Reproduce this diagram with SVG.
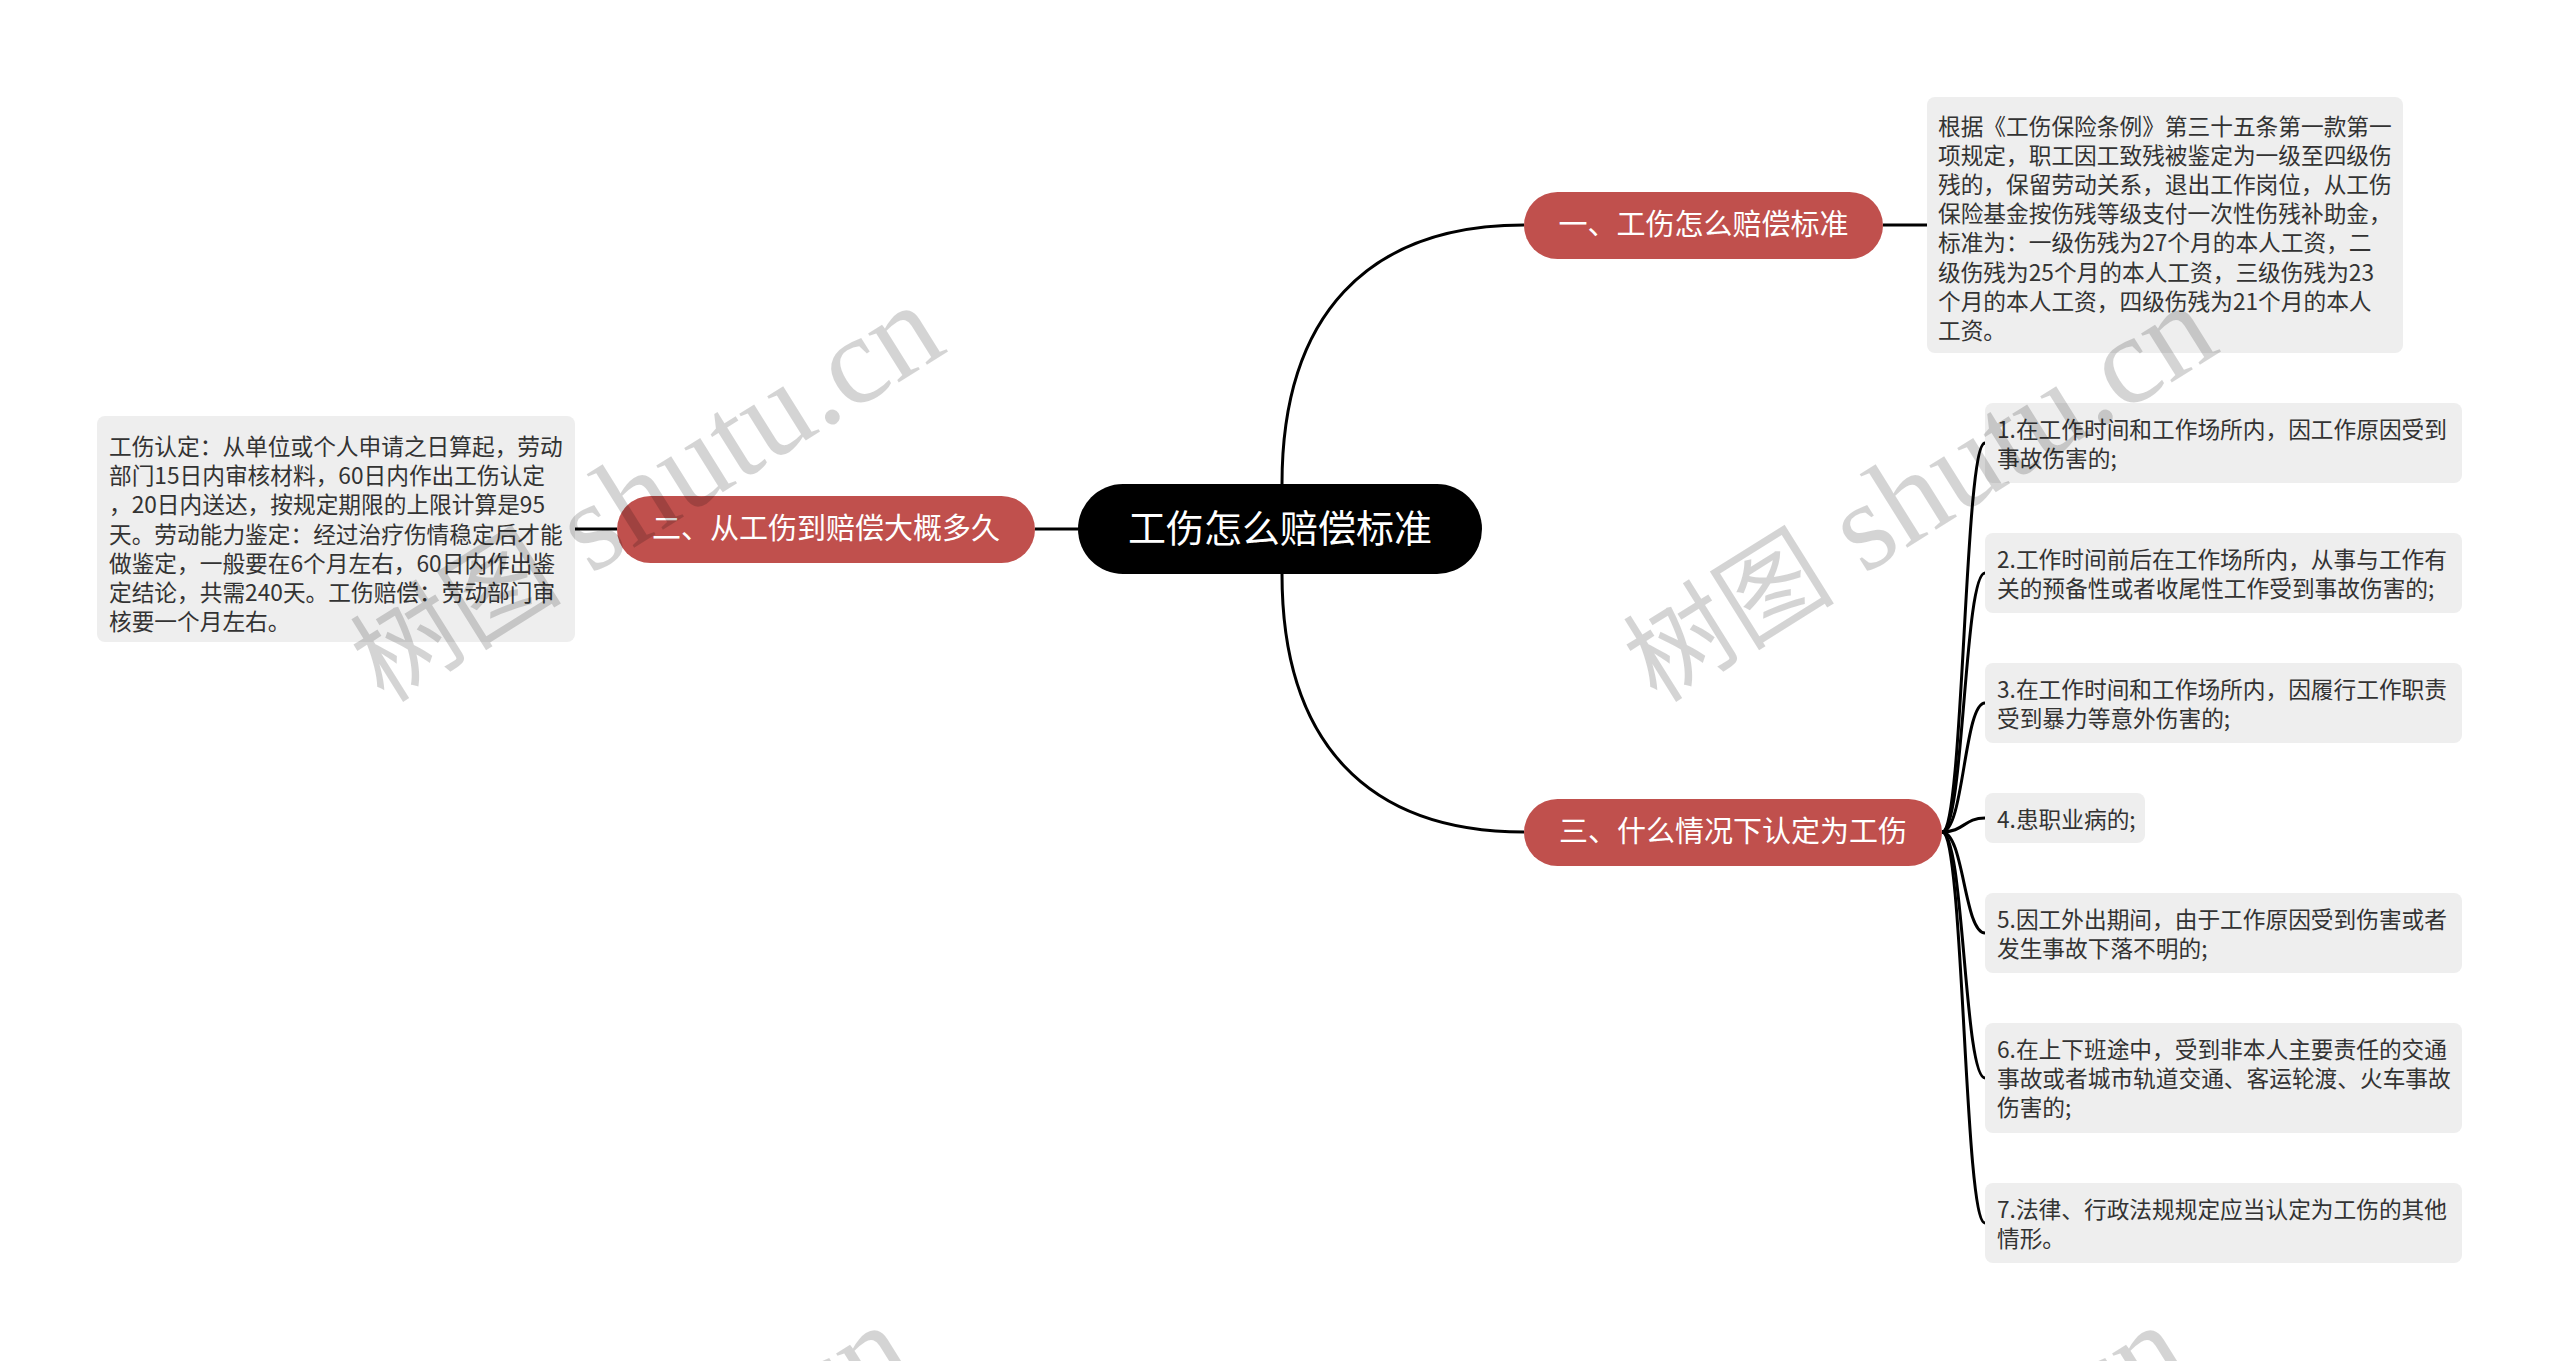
<svg xmlns="http://www.w3.org/2000/svg" width="2560" height="1361" viewBox="0 0 2560 1361">
<defs>
<style>
.wm{font-family:"Liberation Serif","Noto Serif CJK SC","Noto Sans CJK SC",serif;fill:#000000;fill-opacity:0.17;}
.wm .zh{font-size:106px;font-family:"Noto Sans CJK SC",sans-serif;}
.wm .en{font-size:126px;}
.box{fill:#eeeeee;}
.txt{font-family:"Noto Sans CJK SC","Microsoft YaHei",sans-serif;font-size:22.7px;fill:#333333;}
.br{fill:#c0504d;}
.brt{font-family:"Noto Sans CJK SC","Microsoft YaHei",sans-serif;font-size:29px;fill:#ffffff;text-anchor:middle;}
.root{fill:#000000;}
.roott{font-family:"Noto Sans CJK SC","Microsoft YaHei",sans-serif;font-size:38px;fill:#ffffff;text-anchor:middle;}
.ln{fill:none;stroke:#000000;stroke-width:3;}
</style>
</defs>
<rect width="2560" height="1361" fill="#ffffff"/>

<g id="connectors">
<path class="ln" d="M1282 484 C1282 316 1367 225 1524 225"/>
<path class="ln" d="M1282 574 C1282 742 1367 832 1524 832"/>
<path class="ln" d="M1078 529 L1035 529"/>
<path class="ln" d="M617 529 L575 529"/>
<path class="ln" d="M1883 225 L1927 225"/>
<path class="ln" d="M1942 832 C1964 832 1964 443 1985 443"/>
<path class="ln" d="M1942 832 C1964 832 1964 573 1985 573"/>
<path class="ln" d="M1942 832 C1964 832 1964 703 1985 703"/>
<path class="ln" d="M1942 832 C1964 832 1964 818 1985 818"/>
<path class="ln" d="M1942 832 C1964 832 1964 933 1985 933"/>
<path class="ln" d="M1942 832 C1964 832 1964 1078 1985 1078"/>
<path class="ln" d="M1942 832 C1964 832 1964 1223 1985 1223"/>
</g>

<g id="root">
<rect class="root" x="1078" y="484" width="404" height="90" rx="45"/>
<text class="roott" x="1280" y="542">工伤怎么赔偿标准</text>
</g>

<g id="branch1">
<rect class="br" x="1524" y="192" width="359" height="67" rx="33.5"/>
<text class="brt" x="1703.5" y="235">一、工伤怎么赔偿标准</text>
</g>

<g id="branch2">
<rect class="br" x="617" y="496" width="418" height="67" rx="33.5"/>
<text class="brt" x="826" y="539">二、从工伤到赔偿大概多久</text>
</g>

<g id="branch3">
<rect class="br" x="1524" y="799" width="418" height="67" rx="33.5"/>
<text class="brt" x="1733" y="842">三、什么情况下认定为工伤</text>
</g>

<g id="detail1">
<rect class="box" x="1927" y="97" width="476" height="256" rx="8"/>
<text class="txt">
<tspan x="1938" y="135">根据《工伤保险条例》第三十五条第一款第一</tspan>
<tspan x="1938" y="164.1">项规定，职工因工致残被鉴定为一级至四级伤</tspan>
<tspan x="1938" y="193.2">残的，保留劳动关系，退出工作岗位，从工伤</tspan>
<tspan x="1938" y="222.3">保险基金按伤残等级支付一次性伤残补助金，</tspan>
<tspan x="1938" y="251.4">标准为：一级伤残为27个月的本人工资，二</tspan>
<tspan x="1938" y="280.5">级伤残为25个月的本人工资，三级伤残为23</tspan>
<tspan x="1938" y="309.6">个月的本人工资，四级伤残为21个月的本人</tspan>
<tspan x="1938" y="338.7">工资。</tspan>
</text>
</g>

<g id="detail2">
<rect class="box" x="97" y="416" width="478" height="226" rx="8"/>
<text class="txt">
<tspan x="109" y="455">工伤认定：从单位或个人申请之日算起，劳动</tspan>
<tspan x="109" y="484.2">部门15日内审核材料，60日内作出工伤认定</tspan>
<tspan x="109" y="513.4">，20日内送达，按规定期限的上限计算是95</tspan>
<tspan x="109" y="542.6">天。劳动能力鉴定：经过治疗伤情稳定后才能</tspan>
<tspan x="109" y="571.8">做鉴定，一般要在6个月左右，60日内作出鉴</tspan>
<tspan x="109" y="601">定结论，共需240天。工伤赔偿：劳动部门审</tspan>
<tspan x="109" y="630.2">核要一个月左右。</tspan>
</text>
</g>

<g id="item1">
<rect class="box" x="1985" y="403" width="477" height="80" rx="8"/>
<text class="txt"><tspan x="1997" y="437.5">1.在工作时间和工作场所内，因工作原因受到</tspan><tspan x="1997" y="466.5">事故伤害的;</tspan></text>
</g>
<g id="item2">
<rect class="box" x="1985" y="533" width="477" height="80" rx="8"/>
<text class="txt"><tspan x="1997" y="567.5">2.工作时间前后在工作场所内，从事与工作有</tspan><tspan x="1997" y="596.5">关的预备性或者收尾性工作受到事故伤害的;</tspan></text>
</g>
<g id="item3">
<rect class="box" x="1985" y="663" width="477" height="80" rx="8"/>
<text class="txt"><tspan x="1997" y="697.5">3.在工作时间和工作场所内，因履行工作职责</tspan><tspan x="1997" y="726.5">受到暴力等意外伤害的;</tspan></text>
</g>
<g id="item4">
<rect class="box" x="1985" y="793" width="160" height="50" rx="8"/>
<text class="txt"><tspan x="1997" y="827.5">4.患职业病的;</tspan></text>
</g>
<g id="item5">
<rect class="box" x="1985" y="893" width="477" height="80" rx="8"/>
<text class="txt"><tspan x="1997" y="927.5">5.因工外出期间，由于工作原因受到伤害或者</tspan><tspan x="1997" y="956.5">发生事故下落不明的;</tspan></text>
</g>
<g id="item6">
<rect class="box" x="1985" y="1023" width="477" height="110" rx="8"/>
<text class="txt"><tspan x="1997" y="1057.5">6.在上下班途中，受到非本人主要责任的交通</tspan><tspan x="1997" y="1086.5">事故或者城市轨道交通、客运轮渡、火车事故</tspan><tspan x="1997" y="1115.5">伤害的;</tspan></text>
</g>
<g id="item7">
<rect class="box" x="1985" y="1183" width="477" height="80" rx="8"/>
<text class="txt"><tspan x="1997" y="1217.5">7.法律、行政法规规定应当认定为工伤的其他</tspan><tspan x="1997" y="1246.5">情形。</tspan></text>
</g>

<g id="watermarks" class="wm">
<text transform="translate(384 704) rotate(-32)"><tspan class="zh">树图</tspan><tspan class="en"> shutu.cn</tspan></text>
<text transform="translate(1657 704) rotate(-32)"><tspan class="zh">树图</tspan><tspan class="en"> shutu.cn</tspan></text>
<text transform="translate(352 1724) rotate(-32)"><tspan class="zh">树图</tspan><tspan class="en"> shutu.cn</tspan></text>
<text transform="translate(1628 1724) rotate(-32)"><tspan class="zh">树图</tspan><tspan class="en"> shutu.cn</tspan></text>
</g>
</svg>
